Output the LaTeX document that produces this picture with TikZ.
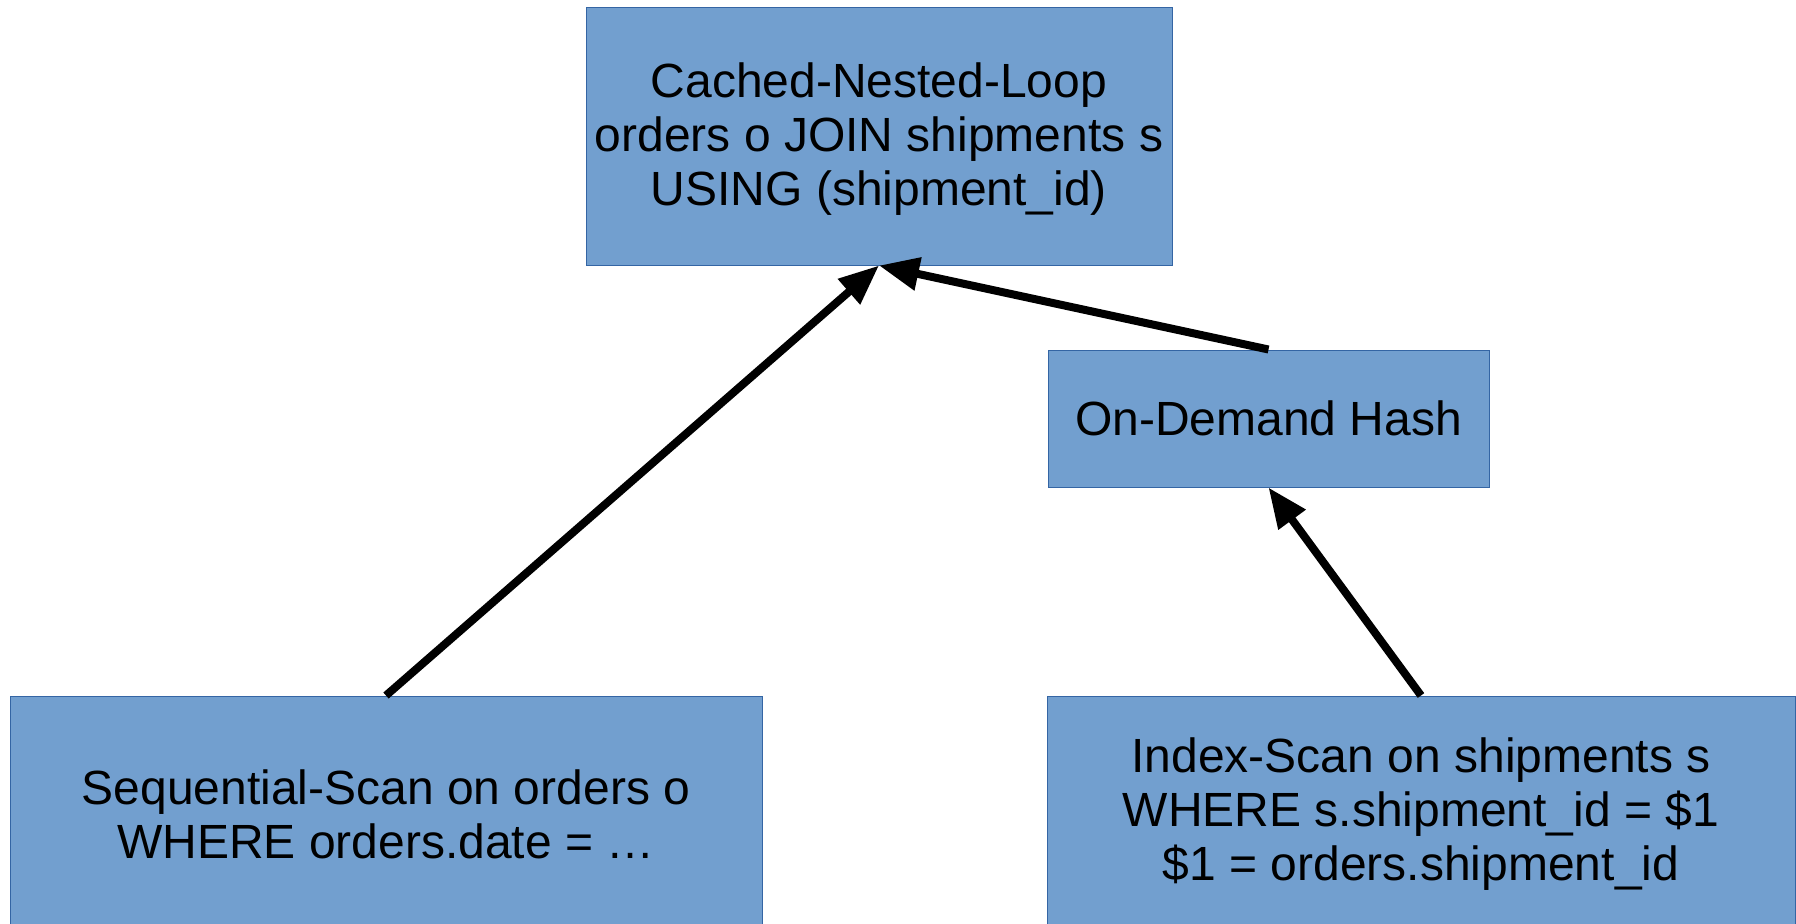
\documentclass[tikz,border=0pt]{standalone}
\usepackage{fontspec}
\setmainfont{Liberation Sans}
\usetikzlibrary{arrows.meta}
\definecolor{boxfill}{HTML}{729FCF}
\definecolor{boxline}{HTML}{3465A4}
\tikzset{
  planbox/.style={draw=boxline, line width=0.5pt, fill=boxfill, inner sep=0pt,
    align=center, font=\fontsize{24}{27}\selectfont, text=black},
  flow/.style={line width=4pt, -{Triangle[length=20pt,width=16pt]}}
}
\begin{document}
\begin{tikzpicture}[x=0.5pt,y=-0.5pt]
\useasboundingbox (0,0) rectangle (1796,923);
\node[planbox, minimum width=293pt, minimum height=129pt, text depth=1.5pt] (join) at (879,136)
  {Cached-Nested-Loop\\orders o JOIN shipments s\\USING (shipment\_id)};
\node[planbox, minimum width=220.5pt, minimum height=68.5pt] (hash) at (1268.5,418.5)
  {On-Demand Hash};
\node[planbox, minimum width=376pt, minimum height=118pt] (seq) at (386,814)
  {Sequential-Scan on orders o\\WHERE orders.date = …};
\node[planbox, minimum width=374pt, minimum height=118pt] (idx) at (1421,814)
  {Index-Scan on shipments s\\WHERE s.shipment\_id = \$1\\\$1 = orders.shipment\_id};
\draw[flow] (seq.north) -- (join.south);
\draw[flow] (hash.north) -- (join.south);
\draw[flow] (idx.north) -- (hash.south);
\end{tikzpicture}
\end{document}
